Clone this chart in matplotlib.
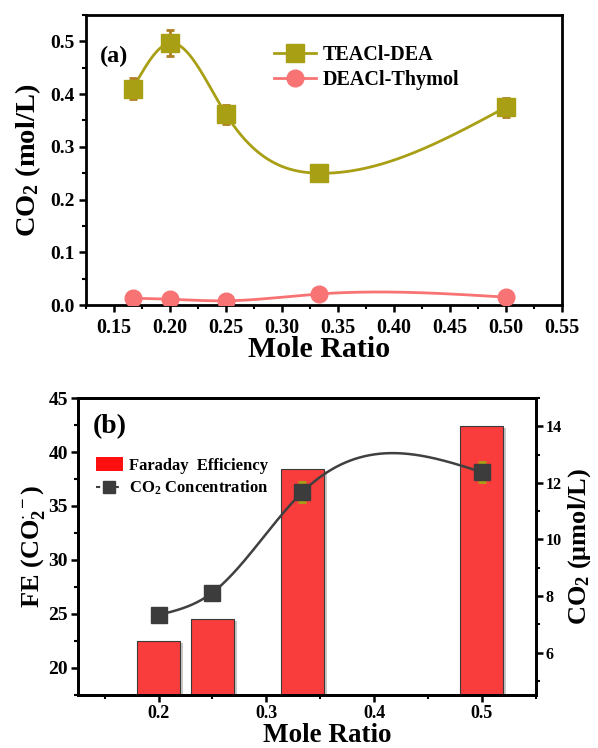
import numpy as np
import matplotlib
matplotlib.use("Agg")
import matplotlib.pyplot as plt
from matplotlib.ticker import MultipleLocator, FormatStrFormatter
from matplotlib.lines import Line2D
from matplotlib.patches import Patch
import matplotlib.transforms as mtransforms

plt.rcParams['font.family'] = ['Liberation Serif', 'DejaVu Serif']
plt.rcParams['font.weight'] = 'bold'
plt.rcParams['axes.labelweight'] = 'bold'
plt.rcParams['mathtext.fontset'] = 'custom'
plt.rcParams['mathtext.rm'] = 'Liberation Serif:bold'
plt.rcParams['mathtext.it'] = 'Liberation Serif:bold:italic'
plt.rcParams['mathtext.bf'] = 'Liberation Serif:bold'

# ---- data (a) ----
ratio_a = [1/6, 0.20, 0.25, 1/3, 0.50]
teacl_dea = [0.410, 0.497, 0.362, 0.250, 0.375]
teacl_dea_err = [0.020, 0.025, 0.018, 0.010, 0.018]
deacl_thymol = [0.013, 0.011, 0.008, 0.021, 0.015]

# ---- data (b) ----
ratio_b = [0.20, 0.25, 1/3, 0.50]
faraday_eff = [22.5, 24.5, 38.4, 42.4]
co2_conc = [7.33, 8.12, 11.67, 12.38]
co2_err = [0.25, 0.25, 0.35, 0.35]


def natural_spline(x, y, xs):
    x = np.asarray(x, float); y = np.asarray(y, float)
    n = len(x)
    h = np.diff(x)
    A = np.zeros((n, n)); b = np.zeros(n)
    A[0, 0] = 1; A[-1, -1] = 1
    for i in range(1, n - 1):
        A[i, i - 1] = h[i - 1]
        A[i, i] = 2 * (h[i - 1] + h[i])
        A[i, i + 1] = h[i]
        b[i] = 6 * ((y[i + 1] - y[i]) / h[i] - (y[i] - y[i - 1]) / h[i - 1])
    M = np.linalg.solve(A, b)
    xs = np.asarray(xs, float)
    idx = np.clip(np.searchsorted(x, xs) - 1, 0, n - 2)
    x0 = x[idx]; x1 = x[idx + 1]; hh = x1 - x0
    t0 = x1 - xs; t1 = xs - x0
    return (M[idx] * t0**3 / (6 * hh) + M[idx + 1] * t1**3 / (6 * hh)
            + (y[idx] / hh - M[idx] * hh / 6) * t0
            + (y[idx + 1] / hh - M[idx + 1] * hh / 6) * t1)


fig = plt.figure(figsize=(5.98, 7.48), dpi=100)

olive = '#a89f14'
olive_err = '#b07f22'
pink = '#f87373'

# ================= (a) =================
ax1 = fig.add_axes([0.1438, 0.5922, 0.7955, 0.3877])
xs = np.linspace(ratio_a[0], ratio_a[-1], 300)
ax1.plot(xs, natural_spline(ratio_a, teacl_dea, xs), color=olive, lw=2.0, zorder=2)
ax1.plot(xs, natural_spline(ratio_a, deacl_thymol, xs), color=pink, lw=2.0, zorder=2)
ax1.errorbar(ratio_a, teacl_dea, yerr=teacl_dea_err, fmt='none', ecolor=olive_err,
             elinewidth=2, capsize=3, capthick=2, zorder=3)
ax1.plot(ratio_a, teacl_dea, 's', color=olive, ms=13, zorder=4)
ax1.plot(ratio_a, deacl_thymol, 'o', color=pink, ms=12, zorder=4)

ax1.set_xlim(0.125, 0.55)
ax1.set_ylim(0, 0.55)
ax1.xaxis.set_major_locator(MultipleLocator(0.05))
ax1.xaxis.set_minor_locator(MultipleLocator(0.025))
ax1.yaxis.set_major_locator(MultipleLocator(0.1))
ax1.yaxis.set_minor_locator(MultipleLocator(0.05))
ax1.xaxis.set_major_formatter(FormatStrFormatter('%.2f'))
ax1.yaxis.set_major_formatter(FormatStrFormatter('%.1f'))
ax1.tick_params(axis='x', which='major', direction='out', length=5, width=1.8, labelsize=14.5, pad=4)
ax1.tick_params(axis='y', which='major', direction='out', length=5, width=1.8, labelsize=14, pad=3)
ax1.tick_params(which='minor', direction='out', length=3, width=1.5)
for s in ax1.spines.values():
    s.set_linewidth(2.0)
ax1.set_xlabel('Mole Ratio', fontsize=21.5, fontweight='bold')
ax1.xaxis.set_label_coords(0.49, -0.108, transform=ax1.transAxes)
ax1.set_ylabel(r'CO$_2$ (mol/L)', fontsize=20.5, fontweight='bold', labelpad=5)
ax1.text(0.03, 0.895, '(a)', transform=ax1.transAxes, fontsize=17.5, fontweight='bold', va='top')

h1 = Line2D([], [], color=olive, lw=2.0, marker='s', ms=13)
h2 = Line2D([], [], color=pink, lw=2.0, marker='o', ms=12)
ax1.legend([h1, h2], ['TEACl-DEA', 'DEACl-Thymol'], loc='upper left',
           bbox_to_anchor=(0.395, 0.895), frameon=False,
           handlelength=2.1, handletextpad=0.3, labelspacing=0.22, borderpad=0, borderaxespad=0,
           prop={'weight': 'bold', 'size': 14.5})

# ================= (b) =================
ax2 = fig.add_axes([0.130, 0.0709, 0.766, 0.397])
bar_w = 0.04
shadow = ax2.transData + mtransforms.ScaledTranslation(3 / 100, -2 / 100, fig.dpi_scale_trans)
ax2.bar(ratio_b, faraday_eff, width=bar_w, color='#c8c8c8', edgecolor='none',
        transform=shadow, zorder=1)
ax2.bar(ratio_b, faraday_eff, width=bar_w, color='#f93c3c', edgecolor='#3a3a3a',
        lw=0.8, zorder=2)
ax2.set_xlim(0.125, 0.55)
ax2.set_ylim(17.5, 45)
ax2.xaxis.set_major_locator(MultipleLocator(0.1))
ax2.xaxis.set_minor_locator(MultipleLocator(0.05))
ax2.yaxis.set_major_locator(MultipleLocator(5))
ax2.yaxis.set_minor_locator(MultipleLocator(2.5))
ax2.xaxis.set_major_formatter(FormatStrFormatter('%.1f'))
ax2.tick_params(axis='x', which='major', direction='out', length=5, width=1.8, labelsize=13, pad=2.5)
ax2.tick_params(axis='y', which='major', direction='out', length=5, width=1.8, labelsize=14, pad=2)
ax2.tick_params(which='minor', direction='out', length=3, width=1.5)
for s in ax2.spines.values():
    s.set_linewidth(2.0)
ax2.set_xlabel('Mole Ratio', fontsize=19.5, fontweight='bold')
ax2.xaxis.set_label_coords(0.545, -0.094, transform=ax2.transAxes)
ax2.set_ylabel(r'FE (CO$_2^{\cdot\,-}$)', fontsize=19, fontweight='bold', labelpad=1)
ax2.text(0.033, 0.945, '(b)', transform=ax2.transAxes, fontsize=20, fontweight='bold', va='top')

ax3 = ax2.twinx()
xs2 = np.linspace(ratio_b[0], ratio_b[-1], 300)
ax3.plot(xs2, natural_spline(ratio_b, co2_conc, xs2), color='#404040', lw=1.8, zorder=2)
ax3.errorbar(ratio_b, co2_conc, yerr=co2_err, fmt='none', ecolor='#a9a114',
             elinewidth=2, capsize=3, capthick=2, zorder=3)
ax3.plot(ratio_b, co2_conc, 's', color='#3c3c3c', ms=11, zorder=4)
ax3.set_ylim(4.5, 15)
ax3.yaxis.set_major_locator(MultipleLocator(2))
ax3.yaxis.set_minor_locator(MultipleLocator(1))
ax3.tick_params(axis='y', which='major', direction='out', length=5, width=1.8, labelsize=11.5, pad=2)
ax3.tick_params(which='minor', direction='out', length=3, width=1.5)
for s in ax3.spines.values():
    s.set_linewidth(2.0)
ax3.set_ylabel(r'CO$_2$ ($\mathregular{\mu}$mol/L)', fontsize=19, fontweight='bold', labelpad=3)

hp = Patch(facecolor='#ff1010', edgecolor='none')
hl = Line2D([], [], color='#404040', lw=1.5, ls=(0, (2, 2.5)), marker='s', ms=9, mfc='#3c3c3c', mec='#3c3c3c')
ax3.legend([hp, hl], ['Faraday  Efficiency', r'CO$_2$ Concentration'], loc='upper left',
           bbox_to_anchor=(0.04, 0.8), frameon=False,
           handlelength=1.6, handleheight=0.9, handletextpad=0.35, labelspacing=0.3, borderpad=0, borderaxespad=0,
           prop={'weight': 'bold', 'size': 12})

fig.savefig('out.png', dpi=100)
